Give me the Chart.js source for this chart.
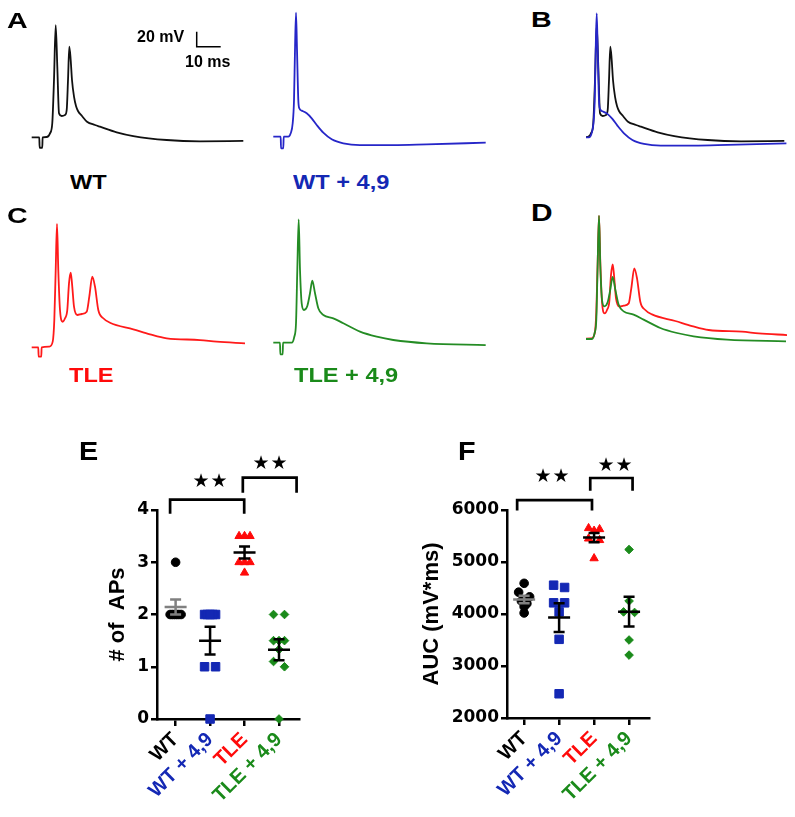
<!DOCTYPE html>
<html>
<head>
<meta charset="utf-8">
<script src="https://cdn.jsdelivr.net/npm/chart.js@4.4.1/dist/chart.umd.min.js"></script>
<style>
  body { margin: 0; background: #fff; }
  #fig { position: relative; width: 795px; height: 817px; overflow: hidden; background: #fff; }
  canvas { position: absolute; }
  .lbl { position: absolute; font-family: "Liberation Sans", Arial, sans-serif; font-weight: bold; line-height: 1; white-space: nowrap; transform-origin: left top; }
</style>
</head>
<body>
<div id="fig"></div>
<script>
// traces : temps en ms depuis le debut du trace, potentiel en mV (repos a -70)
const wtTime = [0, 3.17, 3.29, 4.42, 4.54, 6.25, 7.63, 8.58, 9.29, 10.0, 10.67, 11.38, 12.5, 13.88, 14.58, 15.13, 15.67, 16.25, 16.79, 17.63, 18.46, 19.29, 20.96, 23.04, 26.38, 28.46, 35.42, 42.33, 56.25, 70.13, 88.17];
const wtMv = [-70, -70, -83.9, -83.9, -70, -69.6, -64.7, -50.9, 6.4, 79.7, 24.1, -38, -41.6, -40.3, -33.6, 6.4, 50.8, 33.1, 6.4, -15.9, -28.3, -34.9, -41.6, -49.2, -53.6, -55.9, -63.3, -68.3, -73.6, -75.3, -74.9];

const wt49Time = [0, 3.08, 3.21, 4.17, 4.33, 6.25, 7.25, 8.08, 8.63, 9.04, 9.46, 9.88, 10.42, 10.83, 11.83, 13.92, 16.0, 18.08, 20.83, 24.33, 29.17, 36.13, 50.0, 63.92, 88.5];
const wt49Mv = [-70, -70, -85.5, -85.5, -70, -70, -65.5, -52.1, -21.1, 45.6, 95.3, 45.6, -21.1, -32.1, -35.3, -38.8, -45.5, -54.4, -64.7, -73.5, -78.8, -81.1, -81.1, -80.1, -78];

const tleTime = [0, 2.75, 2.88, 4.0, 4.13, 7.33, 8.75, 9.42, 10.0, 10.54, 11.08, 11.79, 12.92, 13.88, 14.83, 15.54, 16.25, 16.79, 17.63, 19.0, 20.83, 22.92, 24.0, 25.25, 26.38, 27.75, 29.83, 32.63, 42.33, 49.29, 56.25, 70.13, 77.08, 88.88];
const tleMv = [-70, -70, -82.5, -82.5, -70, -69.2, -62.5, -33.6, 33.1, 94.4, 33.1, -20.3, -35.9, -31.3, -20.3, 15.3, 29.5, 15.3, -15.9, -26.9, -25.6, -22.5, -2.5, 24.1, 10.8, -20.3, -31.3, -37.2, -46, -52.7, -58, -60.3, -62.5, -64.7];

const tle49Time = [0, 2.79, 2.92, 3.92, 4.04, 7.67, 8.75, 9.46, 10.0, 10.58, 11.13, 11.83, 12.79, 14.17, 15.29, 16.25, 17.38, 18.75, 20.83, 25.0, 29.17, 36.13, 43.08, 50.0, 63.92, 88.5];
const tle49Mv = [-70, -70, -85.5, -85.5, -70, -70, -62, -44.1, 26.9, 94.5, 26.9, -17.5, -26.4, -21.1, -4.1, 12.7, -4.1, -24.1, -33.1, -37.5, -44.1, -55.3, -62, -66.4, -70.8, -73.1];

// barre d'echelle 20 mV / 10 ms (coin en bas a gauche, unites du trace WT)
const scaleBarMv = 20;
const scaleBarMs = 10;
const scaleBarCorner = [68.75, 50.8];

// groupes
const groups = ["WT", "WT + 4,9", "TLE", "TLE + 4,9"];
const groupColors = ["#000000", "#1428b4", "#ff0a0a", "#1a8a1a"];
const traceColors = ["#111111", "#2626c8", "#ff1a1a", "#248c24"];

// E : nombre de PA par cellule
const apsWT = [3, 2, 2, 2, 2, 2, 2];
const apsWT49 = [2, 2, 2, 2, 2, 1, 1, 0];
const apsTLE = [3.5, 3.5, 3.5, 3, 3, 3, 2.8];
const apsTLE49 = [2, 2, 1.5, 1.5, 1.5, 1.33, 1.1, 1, 0];
const apsTicks = [0, 1, 2, 3, 4];

// F : aire sous la courbe (mV*ms)
const aucWT = [4590, 4420, 4330, 4250, 4200, 4140, 4020];
const aucWT49 = [4554, 4510, 4215, 4215, 4040, 3513, 2466];
const aucTLE = [5630, 5650, 5600, 5450, 5420, 5070];
const aucTLE49 = [5240, 4250, 4040, 4030, 3500, 3210];
const aucTicks = [2000, 3000, 4000, 5000, 6000];

// crochets de significativite : [de, a, haut, bas des pattes] et etoiles [x, y]
const apsBrackets = [[-0.16, 1.99, 4.2, 3.93], [1.95, 3.51, 4.62, 4.33]];
const apsStars = [[1.0, 4.54], [2.74, 4.88]];
const aucBrackets = [[-0.2, 1.94, 6190, 5990], [1.89, 3.1, 6615, 6370]];
const aucStars = [[0.8, 6640], [2.6, 6846]];

const FONT = '"Liberation Sans", Arial, sans-serif';
const PX_PER_MS = 2.4;
const PX_PER_MV = 0.75;
const REST_MV = -70;

Chart.defaults.font.family = FONT;
const fig = document.getElementById("fig");

function addCanvas(box) {
  const cv = document.createElement("canvas");
  cv.width = box[2];
  cv.height = box[3];
  cv.style.left = box[0] + "px";
  cv.style.top = box[1] + "px";
  cv.style.width = box[2] + "px";
  cv.style.height = box[3] + "px";
  fig.appendChild(cv);
  return cv;
}

function toPoints(time, mv, shift) {
  return time.map((t, i) => ({ x: t - (shift || 0), y: mv[i] }));
}

// temps du pic le plus haut, pour superposer les traces
function peakTime(time, mv) {
  let k = 0;
  for (let i = 1; i < mv.length; i++) if (mv[i] > mv[k]) k = i;
  return time[k];
}

// box = [gauche, haut, largeur, hauteur], origin = [px, py, t] ou t et le repos tombent
function traceChart(box, origin, series) {
  const [L, T, W, H] = box;
  const [ox, oy, t0] = origin;
  const xmin = t0 - (ox - L) / PX_PER_MS;
  const ymax = REST_MV + (oy - T) / PX_PER_MV;
  new Chart(addCanvas(box), {
    type: "line",
    data: {
      datasets: series.map((s) => ({
        data: s.points,
        borderColor: s.color,
        borderWidth: s.width || 1.8,
        pointRadius: 0,
        fill: false,
        cubicInterpolationMode: s.straight ? "default" : "monotone",
        tension: 0,
      })),
    },
    options: {
      responsive: false,
      animation: false,
      devicePixelRatio: 1,
      layout: { padding: 0 },
      plugins: { legend: { display: false }, tooltip: { enabled: false } },
      scales: {
        x: { type: "linear", display: false, min: xmin, max: xmin + W / PX_PER_MS },
        y: { type: "linear", display: false, min: ymax - H / PX_PER_MV, max: ymax },
      },
    },
  });
}

// A gauche : WT + barre d'echelle
traceChart([20, 0, 240, 165], [31.7, 137.3, 0], [
  { points: toPoints(wtTime, wtMv), color: traceColors[0] },
  {
    points: [
      { x: scaleBarCorner[0], y: scaleBarCorner[1] + scaleBarMv },
      { x: scaleBarCorner[0], y: scaleBarCorner[1] },
      { x: scaleBarCorner[0] + scaleBarMs, y: scaleBarCorner[1] },
    ],
    color: "#000", width: 1.5, straight: true,
  },
]);
// A droite : WT + 4,9
traceChart([265, 0, 230, 165], [273.3, 136.7, 0], [
  { points: toPoints(wt49Time, wt49Mv), color: traceColors[1] },
]);
// B : superposition alignee sur le premier pic
traceChart([586, 0, 209, 165], [596.7, 137.3, 0], [
  { points: toPoints(wt49Time, wt49Mv, peakTime(wt49Time, wt49Mv)), color: traceColors[1] },
  { points: toPoints(wtTime, wtMv, peakTime(wtTime, wtMv)), color: traceColors[0] },
]);
// C
traceChart([20, 200, 240, 165], [31.7, 347.3, 0], [
  { points: toPoints(tleTime, tleMv), color: traceColors[2] },
]);
traceChart([265, 200, 230, 165], [273.3, 342.7, 0], [
  { points: toPoints(tle49Time, tle49Mv), color: traceColors[3] },
]);
// D
traceChart([586, 200, 209, 165], [599, 339, 0], [
  { points: toPoints(tle49Time, tle49Mv, peakTime(tle49Time, tle49Mv)), color: traceColors[3] },
  { points: toPoints(tleTime, tleMv, peakTime(tleTime, tleMv)), color: traceColors[2] },
]);

// ---- graphiques en colonnes (E, F) ----
const pointStyles = ["circle", "rect", "triangle", "rectRot"];
const pointRadii = [4.3, 6, 4.8, 4.3];
const meanColors = ["#808080", "#000", "#000", "#000"];

function mean(v) { return v.reduce((a, b) => a + b, 0) / v.length; }
function sem(v) {
  const m = mean(v);
  const ss = v.reduce((a, b) => a + (b - m) * (b - m), 0);
  return Math.sqrt(ss / (v.length - 1)) / Math.sqrt(v.length);
}

// ecarte lateralement les points proches (comme un nuage de points en colonne)
function spread(values, pxPerVal, pxPerCat) {
  const idx = values.map((v, i) => i).sort((a, b) => values[b] - values[a]);
  const offs = values.map(() => 0);
  let cluster = [idx[0]];
  const flush = () => {
    const n = cluster.length;
    if (n < 2) return;
    const pos = cluster.map((c, j) => (j / (n - 1) - 0.5) * 11);
    const order = [];
    for (let a = 0, b = n - 1; a <= b; a++, b--) { order.push(a); if (a !== b) order.push(b); }
    cluster.forEach((k, j) => { offs[k] = pos[order[j]] / pxPerCat; });
  };
  for (let j = 1; j < idx.length; j++) {
    if ((values[idx[j - 1]] - values[idx[j]]) * pxPerVal < 6) cluster.push(idx[j]);
    else { flush(); cluster = [idx[j]]; }
  }
  flush();
  return offs;
}

const statsPlugin = {
  id: "stats",
  afterDatasetsDraw(chart, args, opts) {
    const ctx = chart.ctx;
    const x = chart.scales.x;
    const y = chart.scales.y;
    ctx.save();
    ctx.lineWidth = 2.5;
    ctx.lineCap = "butt";
    opts.series.forEach((vals, i) => {
      const m = mean(vals);
      const s = sem(vals);
      const cx = x.getPixelForValue(i);
      const ym = y.getPixelForValue(m);
      const yt = y.getPixelForValue(m + s);
      const yb = y.getPixelForValue(m - s);
      ctx.strokeStyle = meanColors[i];
      ctx.beginPath();
      ctx.moveTo(cx - 11, ym); ctx.lineTo(cx + 11, ym);
      ctx.moveTo(cx - 5.5, yt); ctx.lineTo(cx + 5.5, yt);
      ctx.moveTo(cx - 5.5, yb); ctx.lineTo(cx + 5.5, yb);
      ctx.moveTo(cx, yt); ctx.lineTo(cx, yb);
      ctx.stroke();
    });
    ctx.strokeStyle = "#000";
    ctx.lineWidth = 2.7;
    ctx.lineJoin = "miter";
    opts.brackets.forEach(([a, b, top, leg]) => {
      ctx.beginPath();
      ctx.moveTo(x.getPixelForValue(a), y.getPixelForValue(leg));
      ctx.lineTo(x.getPixelForValue(a), y.getPixelForValue(top));
      ctx.lineTo(x.getPixelForValue(b), y.getPixelForValue(top));
      ctx.lineTo(x.getPixelForValue(b), y.getPixelForValue(leg));
      ctx.stroke();
    });
    ctx.fillStyle = "#000";
    ctx.font = '19px "DejaVu Sans"';
    ctx.textAlign = "center";
    ctx.textBaseline = "middle";
    opts.stars.forEach(([sx, sy]) => {
      const px = x.getPixelForValue(sx);
      const py = y.getPixelForValue(sy);
      ctx.fillText("\u2605", px - 9, py);
      ctx.fillText("\u2605", px + 9, py);
    });
    ctx.restore();
  },
};

function columnChart(cfg) {
  const datasets = cfg.series.map((vals, i) => {
    const offs = spread(vals, cfg.pxPerVal, cfg.pxPerCat);
    return {
      data: vals.map((v, k) => ({ x: i + offs[k], y: v })),
      pointStyle: pointStyles[i],
      pointRadius: pointRadii[i],
      backgroundColor: groupColors[i],
      borderColor: groupColors[i],
      borderWidth: 1,
      showLine: false,
      clip: false,
    };
  });
  new Chart(addCanvas(cfg.box), {
    type: "scatter",
    data: { datasets },
    plugins: [statsPlugin],
    options: {
      responsive: false,
      animation: false,
      devicePixelRatio: 1,
      layout: { padding: cfg.padding },
      plugins: {
        legend: { display: false },
        tooltip: { enabled: false },
        stats: { series: cfg.series, brackets: cfg.brackets, stars: cfg.stars },
      },
      scales: {
        x: {
          type: "linear",
          min: cfg.xRange[0],
          max: cfg.xRange[1],
          afterBuildTicks: (s) => { s.ticks = groups.map((g, i) => ({ value: i })); },
          afterFit: (s) => { s.height = cfg.xAxisH; },
          ticks: {
            autoSkip: false,
            minRotation: 45,
            maxRotation: 45,
            padding: 2,
            font: { size: 20, weight: "bold" },
            color: (c) => groupColors[c.index],
            callback: (v) => groups[v],
          },
          grid: { display: true, drawOnChartArea: false, drawTicks: true, tickLength: 7, color: "#000", lineWidth: 2.5 },
          border: { display: true, color: "#000", width: 2.5 },
        },
        y: {
          type: "linear",
          min: cfg.yTicks[0],
          max: cfg.yTicks[cfg.yTicks.length - 1],
          afterBuildTicks: (s) => { s.ticks = cfg.yTicks.map((v) => ({ value: v })); },
          afterFit: (s) => { s.width = cfg.yAxisW; },
          ticks: {
            padding: 2,
            color: "#000",
            font: { family: '"DejaVu Sans"', size: 17, weight: "bold" },
            callback: (v) => String(v),
          },
          grid: { display: true, drawOnChartArea: false, drawTicks: true, tickLength: 6, color: "#000", lineWidth: 2.5 },
          border: { display: true, color: "#000", width: 2.5 },
          title: {
            display: true,
            text: cfg.title,
            color: "#000",
            font: { size: 22, weight: "bold" },
            padding: { top: 4, bottom: 0 },
          },
        },
      },
    },
  });
}

columnChart({
  box: [60, 430, 260, 387],
  padding: { left: 41, right: 21, top: 80, bottom: 0 },
  yAxisW: 56,
  xAxisH: 98,
  xRange: [-0.54, 3.58],
  yTicks: apsTicks,
  series: [apsWT, apsWT49, apsTLE, apsTLE49],
  title: "# of  APs",
  brackets: apsBrackets,
  stars: apsStars,
  pxPerCat: 34.5,
  pxPerVal: 52.25,
});

columnChart({
  box: [380, 430, 300, 387],
  padding: { left: 35, right: 31, top: 80, bottom: 0 },
  yAxisW: 92,
  xAxisH: 99,
  xRange: [-0.49, 3.57],
  yTicks: aucTicks,
  series: [aucWT, aucWT49, aucTLE, aucTLE49],
  title: "AUC (mV*ms)",
  brackets: aucBrackets,
  stars: aucStars,
  pxPerCat: 35,
  pxPerVal: 0.052,
});

// textes : [texte, gauche, haut, taille, couleur, etirement horizontal]
const texts = [
  ["A", 7, 10, 22, "#000", 1.3],
  ["B", 531, 9, 22, "#000", 1.3],
  ["C", 7, 205, 22, "#000", 1.3],
  ["D", 531, 202, 23, "#000", 1.3],
  ["20 mV", 137, 29, 16, "#000", 1],
  ["10 ms", 185, 54, 16, "#000", 1],
  ["WT", 70, 172, 20.5, groupColors[0], 1.15],
  ["WT + 4,9", 293, 172, 20.5, groupColors[1], 1.15],
  ["TLE", 69, 365, 20.5, groupColors[2], 1.15],
  ["TLE + 4,9", 294, 365, 20.5, groupColors[3], 1.15],
  ["E", 79, 439, 25, "#000", 1.15],
  ["F", 458, 439, 25, "#000", 1.15],
];
texts.forEach(([t, l, top, size, col, sx]) => {
  const d = document.createElement("div");
  d.className = "lbl";
  d.textContent = t;
  d.style.left = l + "px";
  d.style.top = top + "px";
  d.style.fontSize = size + "px";
  d.style.color = col;
  d.style.transform = "scaleX(" + sx + ")";
  fig.appendChild(d);
});
</script>
</body>
</html>
